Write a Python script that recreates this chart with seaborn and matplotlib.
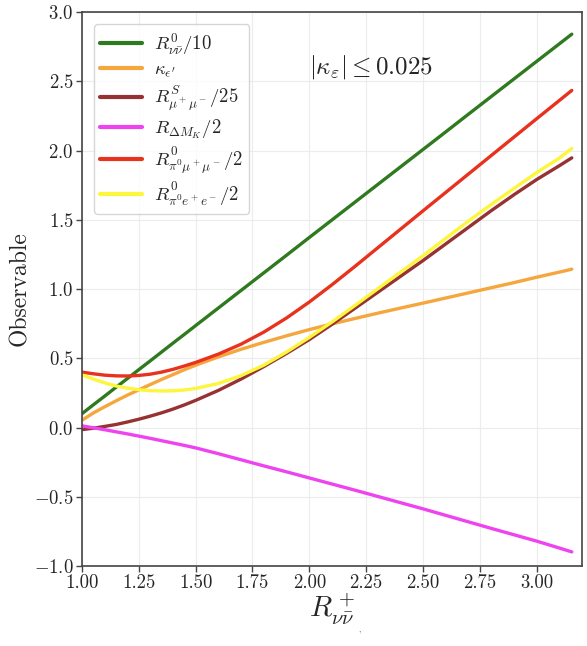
import matplotlib
matplotlib.use("Agg")
import matplotlib.pyplot as plt
import seaborn as sns
import pandas as pd

x = [1.0, 1.05, 1.1, 1.15, 1.2, 1.25, 1.3, 1.35, 1.4, 1.45, 1.5, 1.6, 1.7, 1.8, 1.9,
     2.0, 2.1, 2.2, 2.3, 2.4, 2.5, 2.6, 2.7, 2.8, 2.9, 3.0, 3.1, 3.155]
r_nunu = [0.100, 0.164, 0.227, 0.291, 0.354, 0.418, 0.481, 0.545, 0.609, 0.672, 0.736, 0.863, 0.990, 1.117, 1.244,
          1.372, 1.499, 1.626, 1.753, 1.880, 2.007, 2.134, 2.262, 2.389, 2.516, 2.643, 2.770, 2.840]
kappa_eps = [0.053, 0.105, 0.150, 0.193, 0.234, 0.272, 0.310, 0.347, 0.382, 0.417, 0.450, 0.510, 0.565, 0.615, 0.662,
             0.707, 0.748, 0.787, 0.825, 0.862, 0.898, 0.935, 0.972, 1.009, 1.046, 1.085, 1.122, 1.143]
r_mumu = [-0.015, -0.005, 0.008, 0.022, 0.040, 0.060, 0.082, 0.106, 0.133, 0.163, 0.196, 0.268, 0.350, 0.440, 0.535,
          0.635, 0.745, 0.860, 0.975, 1.090, 1.205, 1.325, 1.445, 1.565, 1.680, 1.790, 1.890, 1.947]
r_dmk = [0.012, -0.002, -0.016, -0.031, -0.046, -0.062, -0.078, -0.095, -0.112, -0.129, -0.147, -0.189, -0.233, -0.277, -0.320,
         -0.364, -0.408, -0.452, -0.497, -0.542, -0.587, -0.634, -0.681, -0.728, -0.774, -0.820, -0.870, -0.898]
r_pimumu = [0.400, 0.388, 0.378, 0.373, 0.372, 0.376, 0.385, 0.400, 0.420, 0.444, 0.470, 0.530, 0.602, 0.689, 0.791,
            0.906, 1.031, 1.162, 1.296, 1.430, 1.564, 1.697, 1.830, 1.963, 2.096, 2.229, 2.361, 2.434]
r_piee = [0.380, 0.350, 0.322, 0.300, 0.284, 0.273, 0.266, 0.264, 0.265, 0.271, 0.282, 0.318, 0.375, 0.450, 0.545,
          0.650, 0.762, 0.880, 1.000, 1.120, 1.240, 1.365, 1.490, 1.610, 1.725, 1.840, 1.945, 2.015]

labels = [r'$R^0_{\nu\bar{\nu}}/10$', r'$\kappa_{\epsilon^\prime}$', r'$R^S_{\mu^+\mu^-}/25$',
          r'$R_{\Delta M_K}/2$', r'$R^0_{\pi^0\mu^+\mu^-}/2$', r'$R^0_{\pi^0 e^+e^-}/2$']
series = [r_nunu, kappa_eps, r_mumu, r_dmk, r_pimumu, r_piee]
colors = ['#2f7a1f', '#f5a63c', '#963232', '#ee44f0', '#e8321e', '#fcf63c']

xticks = [1.00, 1.25, 1.50, 1.75, 2.00, 2.25, 2.50, 2.75, 3.00]
yticks = [-1.0, -0.5, 0.0, 0.5, 1.0, 1.5, 2.0, 2.5, 3.0]

sns.set_style('whitegrid', {'grid.color': '#ececec', 'axes.edgecolor': '#444444',
                            'xtick.bottom': True, 'ytick.left': True})
plt.rcParams['font.family'] = 'serif'
plt.rcParams['font.serif'] = ['cmr10', 'DejaVu Serif']
plt.rcParams['mathtext.fontset'] = 'cm'
plt.rcParams['axes.formatter.use_mathtext'] = True
plt.rcParams['axes.unicode_minus'] = True

rows = []
for lab, vals in zip(labels, series):
    for xi, yi in zip(x, vals):
        rows.append({'x': xi, 'y': yi, 'series': lab})
df = pd.DataFrame(rows)

fig = plt.figure(figsize=(5.87, 6.46), dpi=100)
ax = fig.add_axes([0.1397, 0.1238, 0.8518, 0.8576])
sns.lineplot(data=df, x='x', y='y', hue='series', hue_order=labels,
             palette=dict(zip(labels, colors)), linewidth=2.4, sort=False, ax=ax)

ax.set_xlim(1.0, 3.2)
ax.set_ylim(-1.0, 3.0)
ax.set_xticks(xticks)
ax.set_yticks(yticks)
ax.set_xticklabels([f'{t:.2f}' for t in xticks])
ax.set_yticklabels([f'${t:.1f}$' for t in yticks])
ax.tick_params(axis='both', labelsize=13.5, length=4, width=1, color='#444444', pad=2)
for s in ax.spines.values():
    s.set_linewidth(1.2)
ax.grid(True, color='#ececec', linewidth=0.8)

ax.set_xlabel(r'$R^+_{\nu\bar{\nu}}$', fontsize=21, labelpad=0)
ax.set_ylabel('Observable', fontsize=17, labelpad=2)

ax.text(2.27, 2.6, r'$|\kappa_\varepsilon| \leq 0.025$', fontsize=18, ha='center', va='center')

leg = ax.legend(loc='upper left', fontsize=13.5, frameon=True, handlelength=2.2,
                borderpad=0.35, labelspacing=0.2, handletextpad=0.65,
                bbox_to_anchor=(0.005, 0.995))
leg.get_frame().set_edgecolor('#cccccc')
leg.get_frame().set_linewidth(1.0)
for h in leg.get_lines():
    h.set_linewidth(3.0)

fig.text(0.613, 0.015, "'", fontsize=6, ha='center', color='#555555')

fig.savefig('out.png', dpi=100)
